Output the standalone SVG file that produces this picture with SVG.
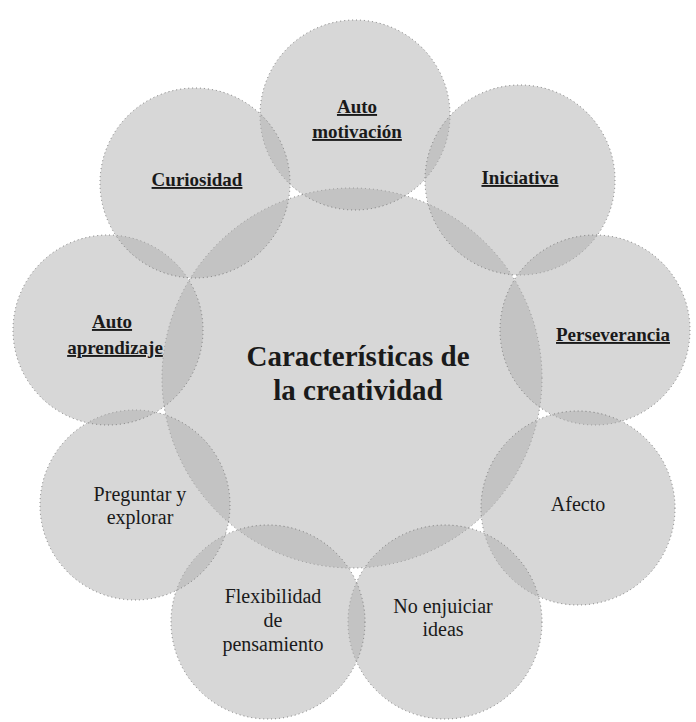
<svg xmlns="http://www.w3.org/2000/svg" width="696" height="722" viewBox="0 0 696 722">
<style>
.c{fill:#b0b0b0;fill-opacity:0.5;stroke:#777;stroke-width:1;stroke-dasharray:1 3}
.t{font-family:"Liberation Serif","Times New Roman",serif;font-size:20px;fill:#1a1a1a;text-anchor:middle}
.u{font-weight:bold;text-decoration:underline;font-size:19px}
.m{font-family:"Liberation Serif","Times New Roman",serif;font-size:29px;font-weight:bold;fill:#1a1a1a;text-anchor:middle}
</style>
<rect width="696" height="722" fill="#ffffff"/>
<g id="connectors"></g>
<g id="center"><circle class="c" cx="352" cy="378" r="190"/></g>
<g id="automotivacion"><circle class="c" cx="355" cy="115" r="95"/></g>
<g id="iniciativa"><circle class="c" cx="520" cy="180" r="95"/></g>
<g id="perseverancia"><circle class="c" cx="595" cy="330" r="95"/></g>
<g id="afecto"><circle class="c" cx="578" cy="508" r="97"/></g>
<g id="noenjuiciar"><circle class="c" cx="445" cy="622" r="97"/></g>
<g id="flexibilidad"><circle class="c" cx="268" cy="622" r="97"/></g>
<g id="preguntar"><circle class="c" cx="135" cy="505" r="95"/></g>
<g id="autoaprendizaje"><circle class="c" cx="108" cy="330" r="95"/></g>
<g id="curiosidad"><circle class="c" cx="195" cy="183" r="95"/></g>
<g id="labels">
<text class="m" x="358" y="366">Características de</text>
<text class="m" x="358" y="400">la creatividad</text>
<text class="t u" x="357" y="113">Auto</text>
<text class="t u" x="357" y="138">motivación</text>
<text class="t u" x="197" y="186">Curiosidad</text>
<text class="t u" x="520" y="184">Iniciativa</text>
<text class="t u" x="112" y="328">Auto</text>
<text class="t u" x="115" y="354">aprendizaje</text>
<text class="t u" x="613" y="341">Perseverancia</text>
<text class="t" x="578" y="511">Afecto</text>
<text class="t" x="140" y="501">Preguntar y</text>
<text class="t" x="140" y="524">explorar</text>
<text class="t" x="273" y="603">Flexibilidad</text>
<text class="t" x="273" y="627">de</text>
<text class="t" x="273" y="651">pensamiento</text>
<text class="t" x="443" y="613">No enjuiciar</text>
<text class="t" x="443" y="636">ideas</text>
</g>
</svg>
